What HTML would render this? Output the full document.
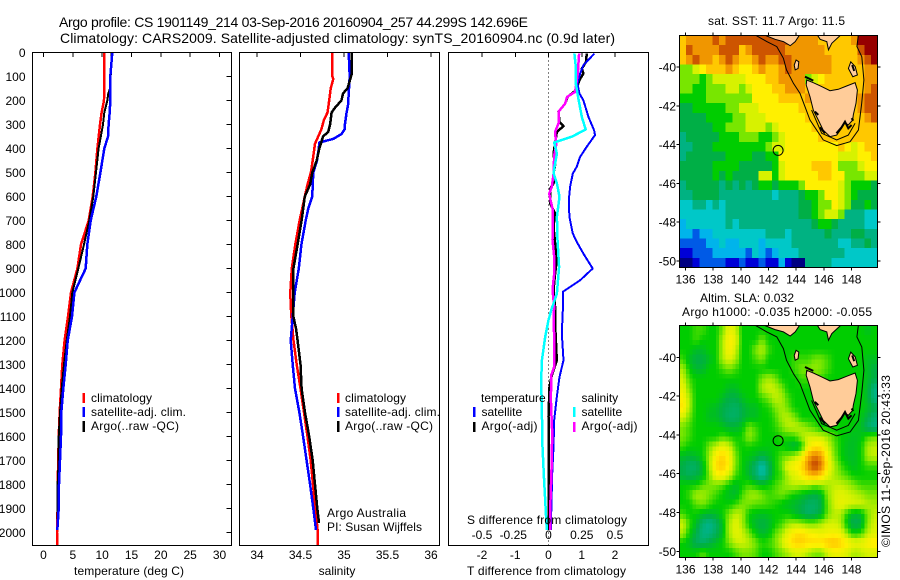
<!DOCTYPE html>
<html>
<head>
<meta charset="utf-8">
<title>Argo profile</title>
<style>
html,body{margin:0;padding:0;background:#fff;}
svg{display:block;}
text{font-family:"Liberation Sans",sans-serif;font-size:12px;fill:#000;}
.t14{font-size:14px;}
</style>
</head>
<body>
<svg id="chart" xmlns="http://www.w3.org/2000/svg" width="900" height="580" viewBox="0 0 900 580">
<defs>
<clipPath id="clip-sst"><rect x="679.5" y="35.5" width="198" height="232"/></clipPath>
<clipPath id="clip-sla"><rect x="679.5" y="325.5" width="198" height="232"/></clipPath>
</defs>
<rect x="0" y="0" width="900" height="580" fill="#fff"/>
<text class="t14" x="59" y="27" textLength="469">Argo profile: CS 1901149_214 03-Sep-2016 20160904_257 44.299S 142.696E</text>
<text class="t14" x="60" y="43" textLength="555">Climatology: CARS2009. Satellite-adjusted climatology: synTS_20160904.nc (0.9d later)</text>

<g id="temp-panel"></g>
<g id="sal-panel"></g>
<g id="diff-panel"></g>
<g id="sst-map"></g>
<g id="sla-map"></g>

<text x="74" y="575" textLength="110">temperature (deg C)</text>
<text x="337" y="575" text-anchor="middle">salinity</text>
<text x="467" y="575" textLength="159">T difference from climatology</text>
<text x="467" y="524" textLength="160">S difference from climatology</text>

<g>
<rect x="82.5" y="393" width="2.5" height="10" fill="#f00"/>
<text x="91" y="402" textLength="61">climatology</text>
<rect x="82.5" y="407" width="2.5" height="10" fill="#00f"/>
<text x="91" y="416" textLength="95">satellite-adj. clim.</text>
<rect x="82.5" y="421" width="2.5" height="11" fill="#000"/>
<text x="91" y="430" textLength="88">Argo(..raw -QC)</text>
</g>
<g>
<rect x="337" y="393" width="2.5" height="10" fill="#f00"/>
<text x="345" y="402" textLength="61">climatology</text>
<rect x="337" y="407" width="2.5" height="10" fill="#00f"/>
<text x="345" y="416" textLength="95">satellite-adj. clim.</text>
<rect x="337" y="421" width="2.5" height="11" fill="#000"/>
<text x="345" y="430" textLength="88">Argo(..raw -QC)</text>
</g>
<text x="327" y="517" textLength="79">Argo Australia</text>
<text x="327" y="531" textLength="95">PI: Susan Wijffels</text>
<g>
<text x="481" y="402">temperature</text>
<rect x="473" y="407" width="2.5" height="10" fill="#00f"/>
<text x="481.5" y="416">satellite</text>
<rect x="473" y="422" width="2.5" height="10" fill="#000"/>
<text x="481.5" y="430" textLength="56">Argo(-adj)</text>
<text x="581.5" y="402">salinity</text>
<rect x="573" y="407" width="2.5" height="10" fill="#0ff"/>
<text x="581.5" y="416">satellite</text>
<rect x="573" y="422" width="2.5" height="10" fill="#f0f"/>
<text x="581.5" y="430" textLength="56">Argo(-adj)</text>
</g>
<text x="708" y="25" textLength="137">sat. SST: 11.7 Argo: 11.5</text>
<text x="700" y="302" textLength="94">Altim. SLA: 0.032</text>
<text x="682" y="316" textLength="190">Argo h1000: -0.035 h2000: -0.055</text>
<text transform="translate(890,547) rotate(-90)" textLength="172">©IMOS 11-Sep-2016 20:43:33</text>
</svg>

<script>
/* ---------- profile data (pressure in dbar) ---------- */
const depthTicks = [0,100,200,300,400,500,600,700,800,900,1000,1100,1200,1300,1400,1500,1600,1700,1800,1900,2000];
const tempTicks = [0,5,10,15,20,25,30];
const salTicks = [34,34.5,35,35.5,36];
const salTickLabels = ["34","34.5","35","35.5","36"];
const dtTicks = [-2,-1,0,1,2];
const dsTicks = [-0.5,-0.25,0,0.25,0.5];

const tempClimDepth = [0,200,250,300,400,500,600,700,800,900,1000,1100,1200,1300,1400,1500,1600,1700,1800,1900,2000,2055];
const tempClimValues = [10.37,10.31,9.91,9.63,9.18,8.84,8.38,7.70,6.39,5.77,4.69,4.18,3.6,3.21,2.98,2.76,2.59,2.53,2.41,2.41,2.30,2.30];
const tempSatDepth = [0,100,200,250,300,350,400,500,600,700,800,900,950,1000,1100,1200,1300,1400,1500,1600,1700,1800,1900,1990];
const tempSatValues = [11.73,11.39,11.39,11.28,11.1,11.0,10.37,9.69,9.0,8.04,7.47,7.19,6.22,5.26,4.86,4.12,3.78,3.38,3.04,2.98,2.81,2.64,2.59,2.36];
const tempArgoDepth = [0,100,150,170,200,250,300,400,500,600,700,800,900,1000,1100,1200,1300,1400,1500,1600,1700,1800,1900,1960];
const tempArgoValues = [11.62,11.45,11.33,11.05,10.88,10.37,10.14,9.4,8.95,8.49,7.81,6.9,5.94,4.91,4.52,3.95,3.49,3.1,2.81,2.59,2.59,2.41,2.41,2.41];

const salClimDepth = [0,100,110,150,200,250,280,320,380,450,500,550,600,700,800,900,1000,1050,1100,1200,1300,1400,1500,1600,1700,1800,1900,2000,2055];
const salClimValues = [34.866,34.866,34.877,34.847,34.83,34.81,34.77,34.74,34.667,34.64,34.62,34.58,34.55,34.49,34.44,34.40,34.383,34.387,34.395,34.42,34.456,34.5,34.54,34.58,34.617,34.644,34.67,34.70,34.70];
const salSatDepth = [0,100,200,220,250,300,320,340,360,375,400,450,500,550,600,650,700,800,900,1000,1100,1200,1300,1400,1500,1600,1700,1800,1900,1990];
const salSatValues = [35.054,35.065,35.05,35.046,35.03,35.01,35.008,34.97,34.877,34.716,34.71,34.69,34.647,34.64,34.636,34.59,34.56,34.51,34.48,34.433,34.41,34.387,34.41,34.437,34.487,34.53,34.57,34.61,34.647,34.678];
const salArgoDepth = [0,90,150,170,200,230,250,300,330,350,400,450,500,550,600,700,800,900,1000,1100,1150,1200,1300,1400,1500,1600,1700,1800,1900,1960];
const salArgoValues = [35.09,35.088,35.04,34.99,34.97,34.897,34.858,34.84,34.82,34.76,34.716,34.686,34.636,34.61,34.55,34.513,34.467,34.418,34.418,34.418,34.448,34.467,34.5,34.513,34.552,34.6,34.64,34.667,34.693,34.713];

const dtSatDepth = [4,53,88,129,171,199,268,324,344,393,435,476,504,560,615,685,754,789,838,900,949,997,1074,1171,1282,1352,1435,1532,1643,1754,1990];
const dtSatValues = [1.38,1.05,0.95,0.87,0.93,1.05,1.20,1.37,1.40,1.15,0.95,0.85,0.73,0.65,0.61,0.63,0.73,0.85,1.05,1.33,0.95,0.43,0.43,0.40,0.45,0.33,0.25,0.17,0.15,0.11,0.07];
const dtArgoDepth = [4,39,67,88,115,157,185,213,247,289,307,331,379,421,469,504,546,567,629,671,726,796,865,921,990,1060,1129,1282,1345,1393,1518,1726,1990];
const dtArgoValues = [1.15,1.13,1.0,1.05,0.93,0.83,0.57,0.50,0.30,0.33,0.45,0.25,0.20,0.15,0.20,0.15,0.15,0.05,0.05,0.20,0.15,0.20,0.25,0.20,0.15,0.20,0.20,0.25,0.10,0.03,0,0,0];
const dsSatDepth = [4,60,129,192,268,321,351,375,421,476,504,546,601,685,782,893,1004,1074,1115,1185,1282,1365,1504,1643,1782,1865,1990];
const dsSatValues = [0.195,0.205,0.205,0.225,0.25,0.28,0.175,0.043,0.063,0.045,0.038,0.063,0.083,0.063,0.068,0.08,0.063,0.02,0,-0.025,-0.05,-0.055,-0.05,-0.045,-0.033,-0.025,-0.013];
const dsArgoDepth = [4,88,164,185,213,247,296,331,386,428,504,560,588,622,657,782,851,921,990,1060,1102,1240,1310,1345,1449,1588,1726,1865,1990];
const dsArgoValues = [0.23,0.22,0.20,0.14,0.125,0.075,0.075,0.05,0.058,0.043,0.038,0.025,0.005,0.018,0.033,0.03,0.043,0.043,0.03,0.043,0.038,0.045,0.043,0.02,0.018,0.028,0.023,0.015,0.013];

/* ---------- map data ---------- */
const lonTicks = [136,138,140,142,144,146,148];
const latTicks = [-40,-42,-44,-46,-48,-50];
const argoLon = 142.696;
const argoLat = -44.299;

/* Colour level per grid cell, north to south, west to east */
const sstLevels = [
[11,12,12,12,12,13,12,13,13,13,13,13,13,13,13,13,13,12,12,12,12,11,11,11,11,11,12,14,14,14],
[11,13,12,12,12,12,13,13,13,11,12,13,13,13,13,13,12,12,12,12,12,12,11,11,11,11,11,13,14,14],
[11,12,13,12,12,11,12,13,12,11,11,12,13,12,12,13,13,12,12,12,12,12,12,11,11,11,11,12,13,14],
[8,8,9,10,11,11,11,12,11,10,10,11,12,11,11,12,13,12,12,12,12,12,12,11,11,11,11,11,12,12],
[8,8,8,7,8,9,9,9,9,9,10,10,10,11,11,12,12,12,12,8,9,10,11,11,11,11,11,11,12,12],
[8,8,7,7,8,8,8,9,9,8,9,10,10,10,11,11,12,12,12,11,11,11,11,11,11,11,11,11,12,13],
[7,7,7,7,8,8,8,8,8,8,8,10,10,10,10,11,11,11,11,12,11,11,11,11,11,11,11,12,13,13],
[6,6,7,7,7,7,7,8,8,9,9,9,10,10,10,10,10,10,11,11,11,11,11,11,11,11,11,12,13,13],
[6,6,6,6,7,7,7,7,8,8,9,9,9,10,10,10,10,10,10,11,11,11,11,11,11,11,11,11,12,13],
[6,6,6,6,6,7,7,8,8,8,9,9,9,8,9,10,10,10,10,10,11,11,11,11,11,11,11,11,11,11],
[5,6,6,6,6,6,7,7,7,8,8,8,7,7,8,9,10,10,10,10,10,11,11,11,11,11,11,11,11,11],
[5,5,6,6,6,7,7,7,7,7,7,7,7,8,9,9,10,10,10,10,10,10,10,10,11,10,9,10,11,11],
[5,6,6,6,6,6,6,7,7,7,7,6,6,7,7,10,10,10,10,10,10,10,10,10,9,9,9,10,10,11],
[6,6,6,6,6,7,7,7,7,6,6,6,6,6,7,9,10,10,10,10,11,11,11,10,8,8,8,9,10,10],
[6,6,6,6,6,7,6,7,6,6,6,6,9,9,7,9,10,10,10,10,10,11,11,10,10,8,8,8,9,9],
[5,6,6,6,6,6,5,6,5,6,5,6,7,7,6,7,7,7,8,10,10,10,10,10,9,8,7,7,7,6],
[5,5,6,6,6,6,5,5,5,5,5,5,5,5,4,5,5,5,6,7,7,8,10,10,9,8,7,6,6,6],
[4,4,5,5,4,5,4,5,5,5,5,5,5,5,5,5,5,5,6,6,7,8,8,10,9,8,6,6,7,6],
[4,4,4,4,4,4,4,5,5,5,5,5,5,5,5,5,5,5,6,6,7,8,9,9,8,5,5,5,4,4],
[3,4,4,4,4,4,4,5,4,5,5,5,5,5,5,5,5,5,5,5,6,7,7,6,5,5,5,5,4,4],
[3,3,2,3,3,4,4,4,4,4,4,4,4,5,5,5,4,5,5,5,5,5,6,5,5,5,6,6,5,5],
[2,2,2,2,3,3,4,3,3,4,4,4,3,4,4,4,4,5,5,5,5,5,5,5,4,4,5,5,6,5],
[1,1,2,2,2,3,3,3,3,3,2,4,3,2,3,4,4,4,5,5,5,5,5,5,5,4,4,4,4,4],
[0,0,1,2,2,2,2,1,1,2,1,1,2,1,1,3,1,0,0,5,5,5,5,4,4,4,4,4,4,4]
];

const slaLevels = [
[7,7,7.5,7.5,7,7,8,9.5,9,7,7,7,7,7,7,7,7,7,7,7,7,7,7,7,7,7,7,7,6.5,7],
[7,7,7.5,7,7,7,8.5,10,9.5,7,7,7,8,7,7,7,7,7,7,7,7,7,7,7,7,7,7,7,7,7],
[7,7,6.5,6.5,7,7,8.5,10,9,7,7,8,8.7,7.5,7,7,7,7,7,7,7,7,7,7,7,7,7,7,7,7],
[7.5,6.5,6,6,6.5,7,8.5,9.2,8.5,7,7,7.5,8,7,7,7,7,7.5,7.5,7.5,8,8,7.5,7,7,7,7,7,6.5,6.5],
[8.5,7,6.3,6.3,7,7,7.5,8,7.5,7,7,7,7,7,7,7,7,7.5,8,8,8.3,8,7.5,7,7,7,7,7,6.5,6],
[9,7.5,7,7,7,7,7,7,7,7,7,7,8,8.5,8,7,7,7,7.5,7.5,7.5,7.5,7,7,7,7,7,7,6.5,6],
[9.5,8,7,7,7,7,7,6.5,6.5,7,7,7,8.5,9,8.8,8,7,7,7,7,7,7,7,7,7,7,7,7,6.3,5],
[10,8.5,7,7,7,7,6.5,6,6,6.5,7,7,7.5,8,8.8,8.5,7.5,7,7,7,7,7,7,7,7,7,7,7,6.3,5],
[10.3,8.5,7,7,6.7,6.5,6,5.7,5.5,6,6.5,6.5,7,7.2,8,8.5,7.8,7,7,7,7,7,7,7,7,7,7,7,6.5,6],
[9,8,7,7,6.5,6.5,6,5.5,5.5,6,6.5,6.5,7,7,7.5,8.5,8.7,8,7,7,7,7,7,7,7,7,7,6.7,6,5.3],
[8,7.5,7,7,7,7,6.7,6.3,6.3,6.7,8,7.5,7,7,7.3,8,8.7,8.8,8.5,8,7.5,7,7,7,7,7,6.8,6.5,5.5,5],
[8,7.5,7,7,7,7,7.5,7.3,7,7.2,8.3,7.7,7,7,7,7.3,7.3,7.5,8.5,9,9,8.8,8.3,7.5,7,6.7,6.5,6.7,7.5,7.8],
[7.5,7,7,7,8,8.8,9.5,9,7.5,7,7.2,7,7,6.8,7,7,6.5,6,7,9.5,10.3,10.2,9,7.8,7,6.5,6.5,7,8.5,8.8],
[6.5,6.3,6.5,7,8.3,10,10.7,9.8,8,7,6.8,6.5,6,6.5,7,7.7,8,8.5,9.5,11.5,12.5,11.8,9.5,8,7,6.5,6.5,7,8.5,8.8],
[6,5.5,5.5,6.5,8.3,10.5,11,10,8,7,6.3,5.5,4.3,5.7,7,8,9.5,10,10.5,12.3,13.5,12.5,10,8.5,7.5,6.8,6.5,7,7.5,7.5],
[6,5.7,6,6.5,8,9.7,10,9,7.5,7,6.3,5.5,4.5,5.7,7,7.5,8.7,9.2,10,11,11.5,10.7,9.2,8.5,8,7.5,7,7,7,7],
[7,7,7,7.7,8,8,7.7,7,6.5,7,7.5,7,6.7,7,7.5,8,8.5,8.8,8.5,8.5,8,8.3,8.5,8.8,8.8,8.5,8,7.5,7.5,7.5],
[7,7.5,8.5,8.5,8,7.5,7,6.5,6.3,7.5,8.3,8.5,8,7.5,7.7,8,7.5,7,6.7,6.3,6,6.5,8.3,9,9.3,9,8.8,8.5,8,8],
[7,7,7.7,8,7.5,7,7,7,7.5,8,8,7.7,7.7,7.5,7.2,6.8,6.5,6.3,6,5.5,5.5,6,8,9,9.5,9.2,9,9,8.7,8.5],
[7.5,7,7,6.5,6.3,6.5,7,8,8.8,8.5,7,6.7,6.5,6.7,7,7,7,6.5,6,5.5,5.7,6.3,8,8.7,8.5,7,6.3,6.5,8,8.8],
[9,7.5,6.5,5.3,4.8,5.5,6.5,8.5,9.3,8.5,7,6.3,6,6.3,7,7.5,8.3,8.5,8.3,8,8,8.5,9,9,8.5,6.5,5.7,6,8.2,9],
[8.5,7,6,5,5,5.7,6.5,8.5,9.3,9,8,7,6.3,6.7,7.7,8.5,9.5,10.3,10.5,10,9.8,9.5,9.7,9.8,9.5,8,7,7.5,8.7,9.2],
[7,6.5,5.7,5.5,6,6.5,7,8,8.8,9,8.7,8,7.3,7.5,8,9,10,10.8,10.8,10.5,10.5,10.5,11,11.2,10.7,10,9.5,9.5,10,10.3],
[7,7,7,7.7,7,7,7,7,7.5,8,8,7.7,7,7,7.5,8,8.5,9,9,8.5,8,8,9,9.5,9.5,9,8.5,8.7,9,9]
];

/* Geography as [lon, lat] */
const tasmaniaCoast = [[144.76,-40.67],[145.24,-40.81],[145.85,-41.01],[146.45,-41.22],[147.05,-41.15],[147.65,-40.98],[148.26,-40.81],[148.43,-41.19],[148.33,-41.87],[148.13,-42.47],[148.09,-42.73],[147.77,-42.99],[147.53,-42.87],[147.29,-43.16],[146.93,-43.51],[146.45,-43.59],[145.96,-43.25],[145.6,-42.73],[145.24,-42.22],[145.0,-41.53],[144.73,-40.93]];
const victoriaWest = [[141.52,-38.30],[142.48,-38.57],[143.08,-38.69],[143.57,-38.90],[143.93,-38.69],[144.29,-38.30]];
const victoriaEast = [[145.49,-38.30],[145.73,-38.57],[146.22,-38.69],[146.34,-39.12],[146.58,-38.78],[147.30,-38.30]];
const kingIsland = [[144.0,-39.64],[144.19,-39.73],[144.14,-40.07],[143.93,-40.15],[143.86,-39.90]];
const flindersIsland = [[147.95,-39.73],[148.27,-39.98],[148.43,-40.41],[148.10,-40.50],[147.78,-40.07]];
const shelfEdge = [[140.92,-38.30],[141.88,-38.69],[142.60,-38.95],[143.08,-39.55],[143.3,-40.15],[143.8,-40.84],[144.28,-41.36],[145.0,-42.73],[145.96,-43.76],[146.93,-44.05],[147.9,-43.85],[148.5,-43.25],[148.74,-41.87],[148.9,-40.67],[148.75,-39.47],[148.39,-38.95],[148.51,-38.30]];
const innerShelf = [[145.12,-42.22],[145.85,-43.42],[146.93,-43.76],[147.77,-43.51],[148.26,-42.9]];
const bayWest = [[145.72,-43.11],[146.09,-43.42]];
const baySouth = [[146.91,-43.42],[147.29,-43.11],[147.53,-42.82],[147.77,-43.16],[148.01,-42.99]];
const bayEast = [[148.01,-42.64],[148.13,-42.77]];
const bayMidWest = [[145.36,-42.30],[145.6,-42.47]];
const hunterIsles = [[144.64,-40.5],[145.24,-40.70]];
const flindersBay = [[148.05,-39.90],[148.2,-40.2]];

/* Level colours */
const levelColours = [
[0,0,130],[0,0,215],[0,90,230],[0,180,235],[0,200,200],[0,178,130],[0,175,70],[0,205,0],
[120,230,0],[215,242,0],[255,240,0],[255,200,0],[240,150,0],[205,85,0],[150,0,0]
];

/* ---------- scales ---------- */
const NS = "http://www.w3.org/2000/svg";
const yDepth = d => 52.5 + d * 0.24;
const xTemp = t => 43.5 + t * 5.867;
const xSal = s => 257 + (s - 34) * 87;
const xDt = t => 548.5 + t * 33.25;
const xDs = s => 548.5 + s * 133;

function make(parent, tag, attrs) {
  const el = document.createElementNS(NS, tag);
  for (const k in attrs) el.setAttribute(k, attrs[k]);
  parent.appendChild(el);
  return el;
}
function profilePoints(values, depths, xFn) {
  return values.map((v, i) => xFn(v).toFixed(1) + "," + yDepth(depths[i]).toFixed(1)).join(" ");
}
function levelColour(v) {
  const c = Math.max(0, Math.min(levelColours.length - 1.001, v));
  const i = Math.floor(c), f = c - i;
  const a = levelColours[i], b = levelColours[i + 1];
  return "rgb(" + [0,1,2].map(k => Math.round(a[k] + (b[k] - a[k]) * f)).join(",") + ")";
}

/* ---------- profile panels ---------- */
function frame(parent, x, y, w, h) {
  const el = make(parent, "rect", {x: x, y: y, width: w, height: h, fill: "none", stroke: "#000", "stroke-width": 1, "shape-rendering": "crispEdges"});
  
  
}
function topTick(parent, x) {
  const el = make(parent, "line", {x1: x, x2: x, y1: 52.5, y2: 57, stroke: "#000", "stroke-width": 1, "shape-rendering": "crispEdges"});
  
  
}
function bottomLabel(parent, x, str, y) {
  const el = make(parent, "text", {x: x, y: y, "text-anchor": "middle"});
  el.textContent = str;
  
  
}
function profileLine(parent, values, depths, xFn, colour, width, name) {
  const el = make(parent, "polyline", {points: profilePoints(values, depths, xFn), fill: "none", stroke: colour, "stroke-width": width, "shape-rendering": "crispEdges", "stroke-linejoin": "round"});
  
  
}

const tempPanel = document.getElementById("temp-panel");
tempTicks.forEach(t => { topTick(tempPanel, xTemp(t)); bottomLabel(tempPanel, xTemp(t), String(t), 559); });
depthTicks.forEach(d => {
  const tick = make(tempPanel, "line", {x1: 226.5, x2: 231.5, y1: yDepth(d), y2: yDepth(d), stroke: "#000", "shape-rendering": "crispEdges"});
  
  
  const lab = make(tempPanel, "text", {x: 25.5, y: yDepth(d) + 4.5, "text-anchor": "end"});
  lab.textContent = String(d);
  
  
});
profileLine(tempPanel, tempClimValues, tempClimDepth, xTemp, "#f00", 2.5, "temperature-climatology-line");
profileLine(tempPanel, tempArgoValues, tempArgoDepth, xTemp, "#000", 2, "temperature-argo-line");
profileLine(tempPanel, tempSatValues, tempSatDepth, xTemp, "#00f", 2.5, "temperature-satellite-line");
frame(tempPanel, 32.5, 52.5, 199, 493);

const salPanel = document.getElementById("sal-panel");
salTicks.forEach((s, i) => { topTick(salPanel, xSal(s)); bottomLabel(salPanel, xSal(s), salTickLabels[i], 559); });
profileLine(salPanel, salClimValues, salClimDepth, xSal, "#f00", 2.5, "salinity-climatology-line");
profileLine(salPanel, salSatValues, salSatDepth, xSal, "#00f", 2.5, "salinity-satellite-line");
profileLine(salPanel, salArgoValues, salArgoDepth, xSal, "#000", 2.5, "salinity-argo-line");
frame(salPanel, 239.5, 52.5, 200, 493);

const diffPanel = document.getElementById("diff-panel");
dtTicks.forEach(t => { topTick(diffPanel, xDt(t)); bottomLabel(diffPanel, xDt(t), String(t), 559); });
dsTicks.forEach(s => { bottomLabel(diffPanel, xDs(s) - (s === -0.25 ? 2 : 0), String(s), 539); });
const zeroLine = make(diffPanel, "line", {x1: 548.5, x2: 548.5, y1: 52.5, y2: 545.5, stroke: "#000", "stroke-width": 1, "stroke-dasharray": "1 3", "shape-rendering": "crispEdges"});


profileLine(diffPanel, dtArgoValues, dtArgoDepth, xDt, "#000", 2.5, "t-difference-argo-line");
profileLine(diffPanel, dtSatValues, dtSatDepth, xDt, "#00f", 2, "t-difference-satellite-line");
profileLine(diffPanel, dsArgoValues, dsArgoDepth, xDs, "#f0f", 2.5, "s-difference-argo-line");
profileLine(diffPanel, dsSatValues, dsSatDepth, xDs, "#0ff", 2.5, "s-difference-satellite-line");
frame(diffPanel, 448.5, 52.5, 200, 493);

/* ---------- maps ---------- */
const MAP_LEFT = 679.5, MAP_RIGHT = 877.5, MAP_W = 198, MAP_H = 232;
const xLon = lon => 685.5 + (lon - 136) * 13.83;

function drawMap(host, top, y40, clipId, smooth, levels, heatName) {
  const yLat = lat => y40 + (-40 - lat) * 19.4;
  const rows = levels.length, cols = levels[0].length;
  const heat = make(host, "g", {"clip-path": "url(#" + clipId + ")", "shape-rendering": "crispEdges"});
  
  
  const sub = smooth ? 2 : 1;
  const cw = MAP_W / cols / sub, ch = MAP_H / rows / sub;
  for (let r = 0; r < rows * sub; r++) {
    for (let c = 0; c < cols * sub; c++) {
      let v;
      if (smooth) {
        const fr = Math.max(0, Math.min(rows - 1, (r + 0.5) / sub - 0.5));
        const fc = Math.max(0, Math.min(cols - 1, (c + 0.5) / sub - 0.5));
        const r0 = Math.floor(fr), c0 = Math.floor(fc);
        const r1 = Math.min(rows - 1, r0 + 1), c1 = Math.min(cols - 1, c0 + 1);
        const dr = fr - r0, dc = fc - c0;
        v = levels[r0][c0] * (1 - dr) * (1 - dc) + levels[r0][c1] * (1 - dr) * dc + levels[r1][c0] * dr * (1 - dc) + levels[r1][c1] * dr * dc;
      } else {
        v = levels[r][c];
      }
      const cell = make(heat, "rect", {x: (MAP_LEFT + c * cw).toFixed(2), y: (top + r * ch).toFixed(2), width: (cw + 0.4).toFixed(2), height: (ch + 0.4).toFixed(2), fill: levelColour(v)});
      
      
    }
  }
  const geo = make(host, "g", {"clip-path": "url(#" + clipId + ")"});
  
  
  const pts = list => list.map(p => xLon(p[0]).toFixed(1) + "," + yLat(p[1]).toFixed(1)).join(" ");
  [tasmaniaCoast, victoriaWest, victoriaEast, kingIsland, flindersIsland].forEach(shape => {
    const land = make(geo, "polygon", {points: pts(shape), fill: "#ffcc99", stroke: "#000", "stroke-width": 1});
    
    
  });
  [shelfEdge, innerShelf].forEach(line => {
    const iso = make(geo, "polyline", {points: pts(line), fill: "none", stroke: "#000", "stroke-width": 1});
    
    
  });
  [bayWest, baySouth, bayEast, bayMidWest, hunterIsles, flindersBay].forEach(line => {
    const bay = make(geo, "polyline", {points: pts(line), fill: "none", stroke: "#000", "stroke-width": 2});
    
    
  });
  const marker = make(host, "circle", {cx: xLon(argoLon), cy: yLat(argoLat), r: 5, fill: "none", stroke: "#000", "stroke-width": 1});
  
  
  const box = make(host, "rect", {x: MAP_LEFT, y: top, width: MAP_W, height: MAP_H, fill: "none", stroke: "#000", "stroke-width": 1, "shape-rendering": "crispEdges"});
  
  
  lonTicks.forEach(lon => {
    const x = xLon(lon);
    [[top - 3, top], [top + MAP_H, top + MAP_H + 3]].forEach(seg => {
      const t = make(host, "line", {x1: x, x2: x, y1: seg[0], y2: seg[1], stroke: "#000", "shape-rendering": "crispEdges"});
      
      
    });
    const lab = make(host, "text", {x: x, y: top + MAP_H + 16, "text-anchor": "middle"});
    lab.textContent = String(lon);
    
    
  });
  latTicks.forEach(lat => {
    const y = yLat(lat);
    [[MAP_LEFT - 3, MAP_LEFT], [MAP_RIGHT, MAP_RIGHT + 3]].forEach(seg => {
      const t = make(host, "line", {x1: seg[0], x2: seg[1], y1: y, y2: y, stroke: "#000", "shape-rendering": "crispEdges"});
      
      
    });
    const lab = make(host, "text", {x: 676, y: y + 4.5, "text-anchor": "end"});
    lab.textContent = String(lat);
    
    
  });
}
drawMap(document.getElementById("sst-map"), 35.5, 67, "clip-sst", false, sstLevels, "sst");
drawMap(document.getElementById("sla-map"), 325.5, 357.3, "clip-sla", true, slaLevels, "sla");
</script>
</body>
</html>
